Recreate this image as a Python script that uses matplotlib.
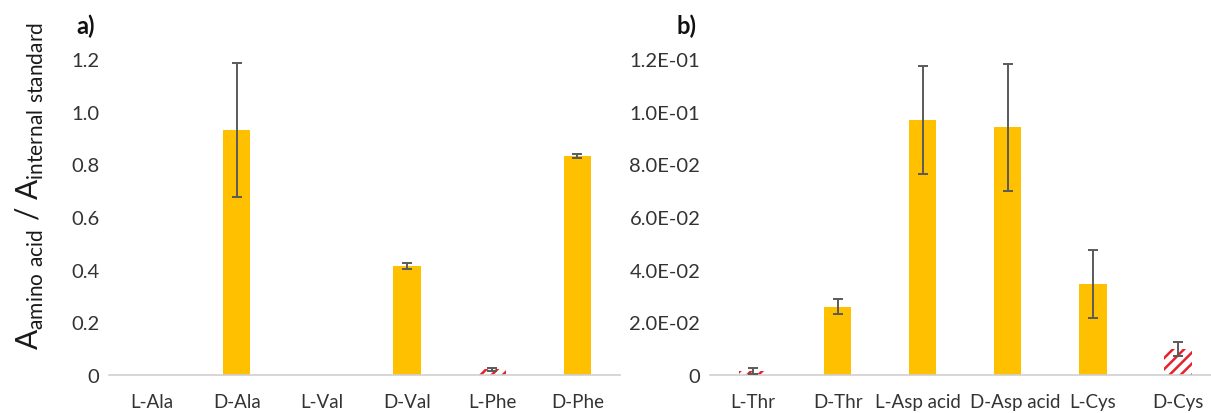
import matplotlib as mpl
mpl.use("Agg")
import matplotlib.pyplot as plt
from matplotlib.ticker import FuncFormatter
from matplotlib.transforms import ScaledTranslation

# panel a) values
a_labels = ["L-Ala", "D-Ala", "L-Val", "D-Val", "L-Phe", "D-Phe"]
a_values = [0.0, 0.93, 0.0, 0.414, 0.022, 0.832]
a_errors = [0.0, 0.255, 0.0, 0.010, 0.006, 0.008]
a_hatched = [False, False, False, False, True, False]
a_ticks = [0, 0.2, 0.4, 0.6, 0.8, 1.0, 1.2]

# panel b) values
b_labels = ["L-Thr", "D-Thr", "L-Asp acid", "D-Asp acid", "L-Cys", "D-Cys"]
b_values = [0.0015, 0.026, 0.097, 0.094, 0.0346, 0.0099]
b_errors = [0.0012, 0.003, 0.0205, 0.024, 0.013, 0.0027]
b_hatched = [True, False, False, False, False, True]
b_ticks = [0, 0.02, 0.04, 0.06, 0.08, 0.10, 0.12]

GOLD = "#FFC000"
RED = "#E8202A"
ERR = "#5A5A5A"
TXT = "#333333"

plt.rcParams["font.family"] = ["Lato", "DejaVu Sans"]
plt.rcParams["mathtext.fontset"] = "custom"
plt.rcParams["mathtext.rm"] = "Lato"
plt.rcParams["hatch.linewidth"] = 1.8

fig = plt.figure(figsize=(12.11, 4.14), dpi=100)
ax_a = fig.add_axes([109 / 1211, 1 - 376 / 414, 511 / 1211, 316 / 414])
ax_b = fig.add_axes([710 / 1211, 1 - 376 / 414, 501 / 1211, 316 / 414])


def draw(ax, labels, values, errors, hatched, ticks, fmt, xmax):
    x = list(range(len(labels)))
    for i, (v, e, h) in enumerate(zip(values, errors, hatched)):
        if h:
            ax.bar(i, v, width=0.32, facecolor="white", edgecolor=RED,
                   hatch="///", linewidth=0, zorder=2)
        else:
            ax.bar(i, v, width=0.32, color=GOLD, linewidth=0, zorder=2)
        if v > 0:
            ax.errorbar(i, v, yerr=e, color=ERR, elinewidth=1.4, capsize=3.8,
                        capthick=1.4, zorder=3, clip_on=False)
    ax.set_xlim(-0.5, xmax)
    ax.set_ylim(0, ticks[-1])
    ax.set_yticks(ticks)
    ax.yaxis.set_major_formatter(FuncFormatter(fmt))
    ax.set_xticks(x)
    ax.set_xticklabels(labels)
    for s in ["top", "right", "left"]:
        ax.spines[s].set_visible(False)
    ax.spines["bottom"].set_color("#D0D0D0")
    ax.spines["bottom"].set_linewidth(1.2)
    ax.tick_params(axis="both", length=0, colors=TXT)
    ax.tick_params(axis="x", pad=13, labelsize=13.5)
    ax.tick_params(axis="y", pad=7, labelsize=14.5)


draw(ax_a, a_labels, a_values, a_errors, a_hatched, a_ticks,
     lambda v, p: "0" if v == 0 else f"{v:.1f}", 5.5)
draw(ax_b, b_labels, b_values, b_errors, b_hatched, b_ticks,
     lambda v, p: "0" if v == 0 else f"{v:.1E}", -0.5 + 501 / 85.1)

# the two long labels sit a little apart, as in the original
shifts = {"L-Asp acid": -5, "D-Asp acid": 7}
for lab in ax_b.get_xticklabels():
    dx = shifts.get(lab.get_text(), 0)
    if dx:
        lab.set_transform(lab.get_transform() +
                          ScaledTranslation(dx / 100, 0, fig.dpi_scale_trans))

fig.text(30 / 1211, 1 - 186 / 414,
         r"A$_{\mathrm{amino\ acid}}$ / A$_{\mathrm{internal\ standard}}$",
         rotation=90, ha="center", va="center", fontsize=21.5, color="#1a1a1a")

fig.text(86 / 1211, 1 - 26 / 414, "a)", fontsize=17, fontweight="bold",
         ha="center", va="center", color="#111111")
fig.text(686 / 1211, 1 - 26 / 414, "b)", fontsize=17, fontweight="bold",
         ha="center", va="center", color="#111111")

fig.savefig("out.png", dpi=100)
